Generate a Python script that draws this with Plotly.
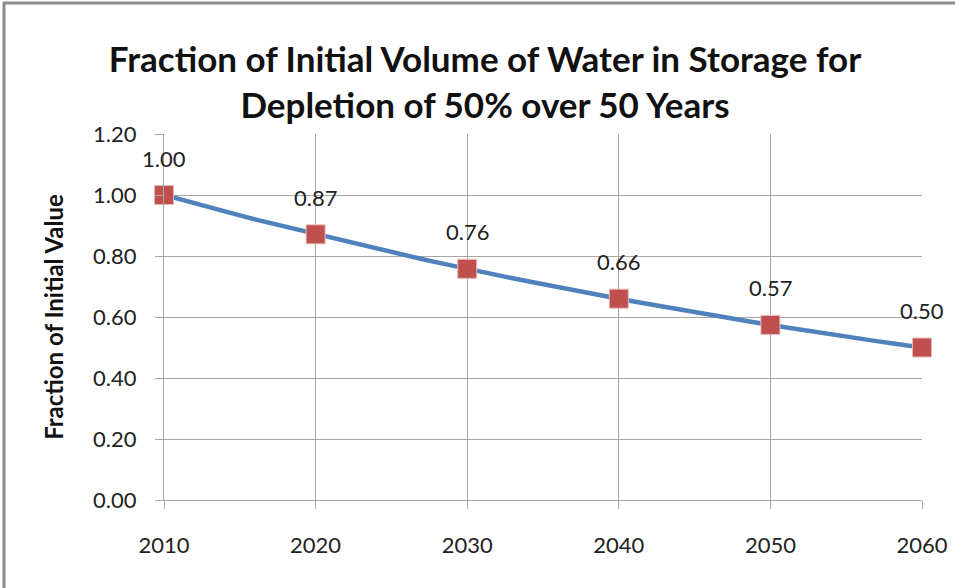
import plotly.graph_objects as go

# Yearly fraction of initial volume
years = list(range(2010, 2061))
fraction = [1.000, 0.986, 0.973, 0.959, 0.946, 0.933, 0.920, 0.908, 0.895, 0.883,
            0.871, 0.859, 0.847, 0.835, 0.824, 0.812, 0.801, 0.790, 0.779, 0.768,
            0.758, 0.747, 0.737, 0.727, 0.717, 0.707, 0.697, 0.688, 0.678, 0.669,
            0.660, 0.651, 0.642, 0.633, 0.624, 0.616, 0.607, 0.599, 0.591, 0.582,
            0.574, 0.566, 0.559, 0.551, 0.543, 0.536, 0.529, 0.521, 0.514, 0.507,
            0.500]

# Decadal markers and their labels
marker_years = [2010, 2020, 2030, 2040, 2050, 2060]
marker_values = [1.000, 0.871, 0.758, 0.660, 0.574, 0.500]
marker_labels = ["1.00", "0.87", "0.76", "0.66", "0.57", "0.50"]

x_ticks = [2010, 2020, 2030, 2040, 2050, 2060]
y_ticks = [0.0, 0.2, 0.4, 0.6, 0.8, 1.0, 1.2]
y_tick_labels = ["0.00", "0.20", "0.40", "0.60", "0.80", "1.00", "1.20"]

FONT = "Lato, 'Open Sans', sans-serif"
W, H = 955, 588
ML, MR, MT, MB = 164, 33, 134, 88

fig = go.Figure()
fig.add_trace(go.Scatter(
    x=years, y=fraction, mode="lines",
    line=dict(color="#4F81BD", width=4.5),
    hoverinfo="skip", showlegend=False,
))
fig.add_trace(go.Scatter(
    x=marker_years, y=marker_values, mode="markers",
    marker=dict(symbol="square", size=19, color="#C0504D",
                line=dict(color="#E6B9B8", width=1)),
    cliponaxis=False, showlegend=False,
))
for xv, yv, t in zip(marker_years, marker_values, marker_labels):
    fig.add_annotation(x=xv, y=yv, text=t, showarrow=False,
                       yshift=37, xanchor="center", yanchor="middle",
                       font=dict(family=FONT, size=22, color="#222222"))

pw = W - ML - MR
ph = H - MT - MB
def px_x(p):
    return (p - ML) / pw
def px_y(p):
    return 1 - (p - MT) / ph

fig.update_layout(
    width=W, height=H, autosize=False,
    margin=dict(l=ML, r=MR, t=MT, b=MB, autoexpand=False),
    paper_bgcolor="white", plot_bgcolor="white",
    title=dict(
        text="<b>Fraction of Initial Volume of Water in Storage for<br>Depletion of 50% over 50 Years</b>",
        x=485 / W, xanchor="center", y=1 - 72 / H, yanchor="middle",
        font=dict(family=FONT, size=35, color="#111111"),
    ),
    xaxis=dict(
        range=[2010, 2060], tickvals=x_ticks,
        ticktext=[str(v) for v in x_ticks],
        showgrid=True, gridcolor="#A6A6A6", gridwidth=1,
        showline=True, linecolor="#A6A6A6", linewidth=1,
        ticks="outside", ticklen=8, tickcolor="#A6A6A6",
        ticklabelstandoff=18,
        tickfont=dict(family=FONT, size=22, color="#222222"),
        zeroline=False, mirror=False, automargin=False,
    ),
    yaxis=dict(
        range=[0, 1.2], tickvals=y_ticks, ticktext=y_tick_labels,
        showgrid=True, gridcolor="#A6A6A6", gridwidth=1,
        showline=True, linecolor="#A6A6A6", linewidth=1,
        ticks="outside", ticklen=8, tickcolor="#A6A6A6",
        ticklabelstandoff=14,
        tickfont=dict(family=FONT, size=22, color="#222222"),
        title=dict(text="<b>Fraction of Initial Value</b>",
                   font=dict(family=FONT, size=24, color="#111111"),
                   standoff=22),
        zeroline=False, automargin=False,
    ),
)

# outer chart frame (left and top edges visible)
fig.add_shape(type="line", xref="paper", yref="paper",
              x0=px_x(4), x1=px_x(4), y0=px_y(2), y1=px_y(H + 5),
              line=dict(color="#8C8C8C", width=3))
fig.add_shape(type="line", xref="paper", yref="paper",
              x0=px_x(3), x1=px_x(W + 5), y0=px_y(3), y1=px_y(3),
              line=dict(color="#8C8C8C", width=3))

fig.write_html(
    "out.html",
    config={"displayModeBar": False},
    post_script="document.body.style.margin='0';document.body.style.overflow='hidden';",
)
